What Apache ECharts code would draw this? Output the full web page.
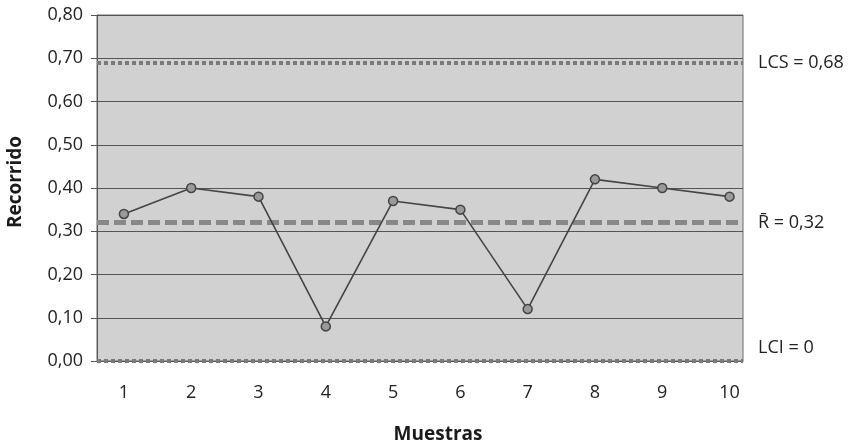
<!DOCTYPE html>
<html>
<head>
<meta charset="utf-8">
<script src="https://cdn.jsdelivr.net/npm/echarts@6/dist/echarts.min.js"></script>
<style>
html,body{margin:0;padding:0;background:#fff;}
#c{width:851px;height:446px;}
</style>
</head>
<body>
<div id="c"></div>
<script>
// Data
var muestras = [1, 2, 3, 4, 5, 6, 7, 8, 9, 10];
var recorrido = [0.34, 0.40, 0.38, 0.08, 0.37, 0.35, 0.12, 0.42, 0.40, 0.38];
var limitValues = [0.685, 0.324, 0];
var limitLabels = ['LCS = 0,68', 'R\u0304 = 0,32', 'LCI = 0'];

var FONT = '"Open Sans", "DejaVu Sans", sans-serif';
var chart = echarts.init(document.getElementById('c'), null, {renderer: 'canvas'});

var points = muestras.map(function (m, i) { return [m, recorrido[i]]; });

var dotted = {color: '#7a7a7a', width: 4, type: [4, 3]};
var dashed = {color: '#888888', width: 5, type: [12, 5]};

var option = {
  backgroundColor: '#ffffff',
  animation: false,
  textStyle: {fontFamily: FONT},
  grid: {
    left: 97, right: 108, top: 15, bottom: 85,
    containLabel: false,
    outerBoundsMode: 'none',
    show: true, backgroundColor: '#d1d1d1', borderColor: '#6a6a6a', borderWidth: 1
  },
  xAxis: {
    type: 'value',
    min: 0.6, max: 10.2,
    name: 'Muestras',
    nameLocation: 'middle',
    nameGap: 64,
    nameTextStyle: {fontFamily: FONT, fontWeight: 'bold', fontSize: 19, color: '#1a1a1a', padding: [0, 0, 0, 36]},
    axisLine: {show: true, lineStyle: {color: '#555', width: 1}},
    axisTick: {show: false},
    splitLine: {show: false},
    axisLabel: {
      customValues: muestras,
      margin: 23,
      fontSize: 18,
      color: '#222',
      fontFamily: FONT
    }
  },
  yAxis: {
    type: 'value',
    min: 0, max: 0.8, interval: 0.1,
    name: 'Recorrido',
    nameLocation: 'middle',
    nameGap: 72,
    nameTextStyle: {fontFamily: FONT, fontWeight: 'bold', fontSize: 19, color: '#1a1a1a', padding: [0, 0, 0, 12]},
    axisLine: {show: true, lineStyle: {color: '#555', width: 1}},
    axisTick: {show: true, length: 6, lineStyle: {color: '#555'}},
    splitLine: {show: true, lineStyle: {color: '#555', width: 1}},
    axisLabel: {
      margin: 14,
      fontSize: 18,
      color: '#222',
      fontFamily: FONT,
      formatter: function (v) { return v.toFixed(2).replace('.', ','); }
    }
  },
  series: [
    {
      type: 'line',
      data: points,
      symbol: 'circle',
      symbolSize: 9,
      z: 5,
      lineStyle: {color: '#444', width: 1.6},
      itemStyle: {color: '#9a9a9a', borderColor: '#444', borderWidth: 1.5},
      markLine: {
        silent: true,
        symbol: ['none', 'none'],
        z: 3,
        label: {
          position: 'end',
          distance: 15,
          fontSize: 18,
          color: '#222',
          fontFamily: FONT
        },
        data: [
          {yAxis: limitValues[0], lineStyle: dotted, label: {formatter: limitLabels[0]}},
          {yAxis: limitValues[1], lineStyle: dashed, label: {formatter: limitLabels[1]}},
          {yAxis: limitValues[2], lineStyle: dotted, label: {formatter: limitLabels[2], offset: [0, -13]}}
        ]
      }
    }
  ]
};
chart.setOption(option);
</script>
</body>
</html>
